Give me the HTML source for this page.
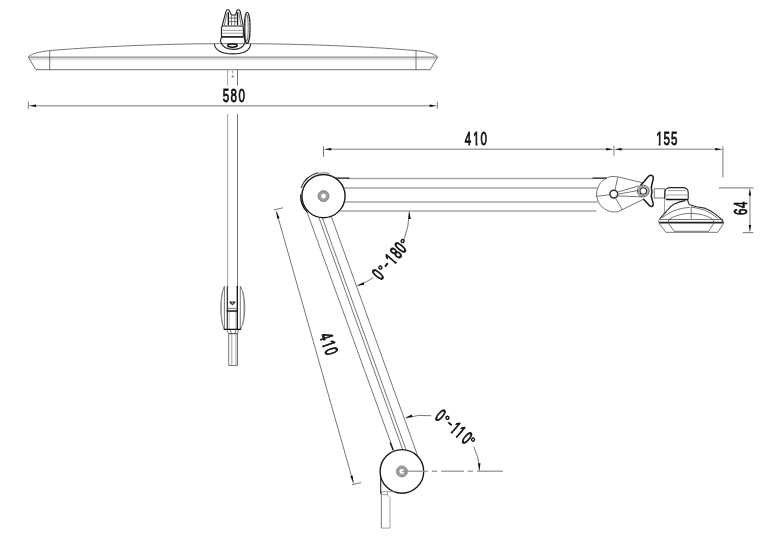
<!DOCTYPE html>
<html><head><meta charset="utf-8"><title>Lamp dimensions</title>
<style>
html,body{margin:0;padding:0;background:#fff;}
body{width:766px;height:539px;overflow:hidden;font-family:"Liberation Sans",sans-serif;}
svg{display:block;filter:grayscale(1)}
.k{fill:none;stroke:#4a4a4a;stroke-width:.75}
.k2{fill:none;stroke:#666;stroke-width:.9}
.m{fill:none;stroke:#222;stroke-width:1.1;stroke-linejoin:round}
.thin{fill:none;stroke:#444;stroke-width:.6}
.b{fill:none;stroke:#111;stroke-width:1.3;stroke-linecap:round;stroke-linejoin:round}
.bk{fill:#fff;stroke:#1a1a1a;stroke-width:1.5;stroke-linecap:round;stroke-linejoin:round}
.bb{fill:none;stroke:#222;stroke-width:1.8}
.g{fill:none;stroke:#a6a6a6;stroke-width:1.5}
.gh{fill:none;stroke:#8c8c8c;stroke-width:1.2}
.g2{fill:none;stroke:#8a8a8a;stroke-width:.8}
.gd{fill:none;stroke:#888;stroke-width:.9;stroke-dasharray:1 .8}
.ring{fill:none;stroke:#9a9a9a;stroke-width:1.9}
.ringd{fill:#fff;stroke:#333;stroke-width:1.5}
.cf{fill:#fff;stroke:#1a1a1a;stroke-width:1.4}
.cfb{fill:#fff;stroke:#333;stroke-width:.8}
.ar{fill:#111;stroke:none}
.t{font-family:"Liberation Sans",sans-serif;font-size:18.5px;fill:#111;stroke:#111;stroke-width:.72px;vector-effect:non-scaling-stroke}
.tr{stroke-width:.85px}
.w{fill:#fff;stroke:none}
.deg{fill:none;stroke:#111;stroke-width:1.35}
.dash{fill:none;stroke:#111;stroke-width:1.8}
</style></head><body>
<svg width="766" height="539" viewBox="0 0 766 539">
<rect width="766" height="539" fill="#fff"/>
<!-- top view: lamp bar -->
<rect x="29.6" y="57.4" width="406.6" height="2.8" fill="#dcdcdc"/>
<path class="k" d="M28.2,56.9 C32,53.5 40,51.5 49.7,50.6 C110,45.5 180,43.6 233,43.6 C286,43.6 356,45.5 416,50.6 C426,51.5 434,53.5 437.6,56.9" />
<path class="k" d="M28.2,56.9 L35.8,69.7 M437.6,56.9 L430.2,69.7" />
<line class="gh" x1="35.60" y1="69.70" x2="430.40" y2="69.70"/>
<line class="k" x1="49.70" y1="50.60" x2="49.70" y2="69.70"/>
<line class="k" x1="416.00" y1="50.60" x2="416.00" y2="69.70"/>
<line class="k2" x1="28.60" y1="57.10" x2="437.20" y2="57.10"/>
<line class="g" x1="34.00" y1="105.70" x2="431.50" y2="105.70"/>
<line class="k" x1="28.30" y1="101.60" x2="28.30" y2="108.80"/>
<line class="k" x1="437.30" y1="101.60" x2="437.30" y2="108.80"/>
<polygon class="ar" points="28.50,105.70 36.00,104.45 36.00,106.95"/>
<polygon class="ar" points="437.10,105.70 429.60,106.95 429.60,104.45"/>
<g transform="translate(222.80,102.00) rotate(0) scale(0.625,1)"><text class="t" x="0.00 12.32 24.96" y="0">580</text></g>
<line class="g2" x1="227.60" y1="69.70" x2="227.60" y2="85.50"/>
<line class="k" x1="237.50" y1="69.70" x2="237.50" y2="85.50"/>
<line class="g2" x1="227.60" y1="114.00" x2="227.60" y2="310.50"/>
<line class="k" x1="237.50" y1="114.00" x2="237.50" y2="310.50"/>
<path class="k" d="M232.2,71.4 l0.9,0 M232.2,72.9 l0.9,0 M231.8,76.9 l0.9,-1.2 l0.9,1.2 z" />
<!-- mount -->
<path class="m" d="M214.4,44.0 C214.6,50 222,53.9 233,53.9 C244,53.9 250.4,50 250.6,44.0" />
<path class="m" d="M220.4,41.2 C222,46.8 227,49.4 233,49.4 C239,49.4 243,47 244.7,43.4" />
<ellipse class="b" cx="232.4" cy="45.6" rx="4.8" ry="1.6" style="stroke-width:1.6"/>
<rect class="m" x="221.4" y="26" width="22.0" height="11" rx="2"/>
<line class="g2" x1="222.00" y1="30.40" x2="243.00" y2="30.40"/>
<line class="g2" x1="222.00" y1="33.20" x2="243.00" y2="33.20"/>
<line class="b" x1="221.80" y1="36.80" x2="243.00" y2="36.80"/>
<path class="m" d="M221.7,36.5 C220.9,38.5 220.2,40 220.4,42 M243.8,36.5 C244.5,38.5 245.1,40.5 245,43" />
<path class="m" d="M222.1,26 L226.0,11.4 C226.6,9.4 228.6,9.2 229.4,10.8 L231.4,15 L235.6,15 L236.8,10.8 C237.6,9.2 239.6,9.4 240.2,11.4 L243.2,26" />
<path class="k" d="M224.2,25.8 L227.4,12.2 M241.2,25.8 L238.8,12.2" />
<path class="b" d="M228.4,13 L228.3,24.6 M237.5,13 L237.6,24.6" />
<path class="k" d="M228.6,18 L237.6,18 M228.4,21.6 L237.8,21.6 M231.6,15 L231.6,25.8 M234.8,15 L234.8,25.8" />
<ellipse class="m" cx="247.1" cy="27.8" rx="2.9" ry="15.6"/>
<ellipse class="k" cx="246.7" cy="27.8" rx="1.5" ry="13.6"/>
<path class="k" d="M249.4,17 l1,0.3 M249.9,20.5 l1,0.2 M250.1,24 l1,0.1 M250.2,27.8 l1,0 M250.1,31.5 l1,-0.1 M249.9,35 l1,-0.2 M249.4,38.5 l1,-0.3" />
<!-- stem joint -->
<path class="k" d="M224.4,286.3 C219.6,295 219.6,321 224.4,329.4 M240.3,286.3 C246.3,295 246.3,321 240.3,329.4" />
<path class="g2" d="M222.4,292.5 C220.9,300 220.9,316 222.4,324 M242.6,292.5 C244.3,300 244.3,316 242.6,324" />
<line class="k" x1="224.40" y1="286.30" x2="224.40" y2="329.40"/>
<line class="k" x1="240.30" y1="286.30" x2="240.30" y2="329.40"/>
<line class="m" x1="227.30" y1="286.30" x2="227.30" y2="329.40"/>
<line class="b" x1="237.30" y1="286.30" x2="237.30" y2="329.40"/>
<path class="m" d="M229.9,302 L232.4,304.6 L235,302 Z" />
<line class="k" x1="227.60" y1="308.40" x2="237.30" y2="308.40"/>
<line class="b" x1="227.30" y1="311.00" x2="237.30" y2="311.00"/>
<line class="gd" x1="229.20" y1="312.00" x2="229.20" y2="329.00"/>
<line class="gd" x1="235.80" y1="312.00" x2="235.80" y2="329.00"/>
<line class="b" x1="224.20" y1="329.40" x2="240.50" y2="329.40"/>
<path class="k" d="M226.6,329.6 L228.8,333.7 L237.4,333.7 L238.4,329.6 M230,329.6 L231.6,333.7 M236,329.6 L235,333.7" />
<rect class="k" x="228.8" y="333.7" width="8.8" height="31.7"/>
<line class="g2" x1="231.80" y1="333.70" x2="231.80" y2="365.40"/>
<line class="g2" x1="236.00" y1="333.70" x2="236.00" y2="365.40"/>
<!-- side view -->
<line class="g" x1="348.00" y1="178.60" x2="593.40" y2="178.60"/>
<line class="g" x1="344.30" y1="187.90" x2="597.40" y2="187.90"/>
<line class="g" x1="344.60" y1="201.90" x2="597.80" y2="201.90"/>
<line class="g" x1="340.00" y1="211.00" x2="596.50" y2="211.00"/>
<line class="b" x1="335.80" y1="178.20" x2="348.80" y2="178.20"/>
<line class="b" x1="593.10" y1="178.20" x2="606.40" y2="178.20"/>
<line class="k" x1="306.70" y1="211.10" x2="393.76" y2="450.80"/>
<line class="k" x1="318.88" y1="217.50" x2="402.81" y2="450.00"/>
<line class="k" x1="322.29" y1="217.80" x2="405.89" y2="449.40"/>
<line class="k" x1="331.50" y1="217.00" x2="418.28" y2="457.40"/>
<circle class="cf" cx="323.5" cy="196.1" r="21.6"/>
<circle class="cf" cx="401.9" cy="471.4" r="21.8"/>
<circle class="ring" cx="323.50" cy="196.10" r="4.30"/>
<circle class="thin" cx="323.50" cy="196.10" r="5.50"/>
<circle class="thin" cx="323.50" cy="196.10" r="3.00"/>
<circle class="ring" cx="401.90" cy="471.40" r="4.30"/>
<circle class="thin" cx="401.90" cy="471.40" r="5.50"/>
<circle class="thin" cx="401.90" cy="471.40" r="3.00"/>
<path class="m" d="M301.04,187.93 A23.900000000000002,23.900000000000002 0 0 1 318.12,172.81" />
<path class="g" d="M318.26,173.40 A23.3,23.3 0 0 1 329.92,173.70" />
<path class="b" d="M306.83,211.65 A22.8,22.8 0 0 1 300.73,194.91" />
<path class="b" d="M390.3,443 L392.9,449.6" />
<line class="g" x1="329.00" y1="149.20" x2="608.00" y2="149.20"/>
<line class="k" x1="323.50" y1="146.20" x2="323.50" y2="156.80"/>
<line class="g" x1="613.90" y1="146.00" x2="613.90" y2="155.80"/>
<polygon class="ar" points="323.70,149.20 331.20,147.95 331.20,150.45"/>
<polygon class="ar" points="613.70,149.20 606.20,150.45 606.20,147.95"/>
<g transform="translate(464.70,145.30) rotate(0) scale(0.625,1)"><text class="t" x="0.00 13.44 25.44" y="0">410</text><rect class="w" x="13.24" y="-2.7" width="4.2" height="4"/><rect class="w" x="20.39" y="-2.7" width="3.9" height="4"/></g>
<line class="g" x1="620.00" y1="149.20" x2="717.00" y2="149.20"/>
<polygon class="ar" points="614.10,149.20 621.60,147.95 621.60,150.45"/>
<polygon class="ar" points="722.70,149.20 715.20,150.45 715.20,147.95"/>
<line class="k" x1="722.90" y1="146.40" x2="722.90" y2="177.30"/>
<g transform="translate(656.20,145.30) rotate(0) scale(0.625,1)"><text class="t" x="0.00 11.84 23.84" y="0">155</text><rect class="w" x="-0.20" y="-2.7" width="4.2" height="4"/><rect class="w" x="6.95" y="-2.7" width="3.9" height="4"/></g>
<line class="gh" x1="718.70" y1="187.90" x2="753.40" y2="187.90"/>
<line class="gh" x1="742.70" y1="232.60" x2="753.40" y2="232.60"/>
<line class="g" x1="749.90" y1="193.00" x2="749.90" y2="227.00"/>
<polygon class="ar" points="749.90,188.10 751.15,195.60 748.65,195.60"/>
<polygon class="ar" points="749.90,232.40 748.65,224.90 751.15,224.90"/>
<g transform="translate(746.90,215.00) rotate(-90) scale(0.625,1)"><text class="t" x="0.00 11.36" y="0">64</text></g>
<line class="k" x1="276.30" y1="211.20" x2="353.50" y2="483.10"/>
<line class="k" x1="273.60" y1="210.00" x2="283.00" y2="207.80"/>
<line class="k" x1="352.00" y1="484.80" x2="361.20" y2="482.60"/>
<polygon class="ar" points="276.30,211.20 279.55,218.07 277.15,218.76"/>
<polygon class="ar" points="353.50,483.10 350.25,476.23 352.65,475.54"/>
<g transform="translate(319.20,335.60) rotate(71) scale(0.62,1)"><text class="t tr" x="0.00 13.23 24.84" y="0">410</text><rect class="w" x="13.03" y="-2.7" width="4.2" height="4"/><rect class="w" x="20.18" y="-2.7" width="3.9" height="4"/></g>
<path class="k" d="M409.30,211.46 A80,80 0 0 1 403.99,239.57" />
<path class="k" d="M373.45,277.61 A80,80 0 0 1 357.58,285.74" />
<polygon class="ar" points="409.30,211.50 410.81,218.95 408.31,219.04"/>
<polygon class="ar" points="356.80,285.80 363.55,282.29 364.32,284.67"/>
<path class="k" d="M405.92,418.03 A56,56 0 0 1 431.29,415.74" />
<path class="k" d="M473.83,446.65 A56,56 0 0 1 479.50,470.71" />
<polygon class="ar" points="405.00,417.80 411.86,414.53 412.55,416.93"/>
<polygon class="ar" points="479.50,470.80 477.99,463.35 480.49,463.26"/>
<line class="gh" x1="402.00" y1="471.20" x2="427.80" y2="471.20"/>
<line class="gh" x1="431.90" y1="471.20" x2="437.10" y2="471.20"/>
<line class="gh" x1="441.20" y1="471.20" x2="464.00" y2="471.20"/>
<line class="gh" x1="467.70" y1="471.20" x2="472.90" y2="471.20"/>
<line class="gh" x1="477.00" y1="471.20" x2="503.00" y2="471.20"/>
<g transform="translate(380.70,281.00) rotate(-50)"><g transform="translate(0.00,0) scale(0.62,1)"><text class="t tr">0</text></g><circle class="deg" cx="10.10" cy="-8.9" r="1.5"/><line class="dash" x1="13.80" y1="-6.0" x2="18.20" y2="-6.0"/><g transform="translate(20.20,0) scale(0.62,1)"><text class="t tr">1</text><rect class="w" x="-0.20" y="-2.7" width="4.2" height="4"/><rect class="w" x="6.95" y="-2.7" width="3.9" height="4"/></g><g transform="translate(28.10,0) scale(0.62,1)"><text class="t tr">8</text></g><g transform="translate(35.10,0) scale(0.62,1)"><text class="t tr">0</text></g><circle class="deg" cx="44.70" cy="-8.9" r="1.5"/></g>
<g transform="translate(434.10,418.10) rotate(40.5)"><g transform="translate(0.00,0) scale(0.62,1)"><text class="t tr">0</text></g><circle class="deg" cx="9.90" cy="-8.9" r="1.5"/><line class="dash" x1="13.60" y1="-6.0" x2="18.00" y2="-6.0"/><g transform="translate(19.50,0) scale(0.62,1)"><text class="t tr">1</text><rect class="w" x="-0.20" y="-2.7" width="4.2" height="4"/><rect class="w" x="6.95" y="-2.7" width="3.9" height="4"/></g><g transform="translate(26.10,0) scale(0.62,1)"><text class="t tr">1</text><rect class="w" x="-0.20" y="-2.7" width="4.2" height="4"/><rect class="w" x="6.95" y="-2.7" width="3.9" height="4"/></g><g transform="translate(34.70,0) scale(0.62,1)"><text class="t tr">0</text></g><circle class="deg" cx="43.60" cy="-8.9" r="1.5"/></g>
<path class="m" d="M380.7,477 L380.7,493.8" />
<path class="g2" d="M380.7,491.7 L394,491.7 M381.3,494.7 L387.4,494.7 M387.4,491.7 L387.4,494.7 L390,497.8 L390,528.1 L381.3,528.1" />
<line class="k" x1="381.30" y1="491.70" x2="381.30" y2="528.10"/>
<!-- right joint -->
<path class="k" d="M610.9,176.5 A17.8,17.8 0 1 0 618.2,211.6 L645.4,198.3 M610.9,176.5 L617.5,176.7 L642.2,182.7" />
<circle class="ringd" cx="613.80" cy="194.10" r="3.90"/>
<line class="k" x1="596.20" y1="196.40" x2="609.60" y2="194.70"/>
<path class="k" d="M615.1,189.9 L617.7,177.2 M615.8,198.6 L622.4,209.8" />
<path class="k" d="M617.9,192.0 L639.1,185.8 M618.4,194.1 L637.5,190.6 M618,195.9 L642,196.9" />
<path class="bk" d="M641.0,184.9 C643.6,182.4 646.4,178.6 648.6,176.2 C650.6,174.4 653.6,175.4 653.4,178.2 C652.8,181.4 651.6,184.6 651.3,187.8 C652.2,190.4 652.2,193.4 651.2,196 C651.8,198.6 652.6,201.2 653.2,203.6 C653.6,206.2 651,207.4 649.4,205.6 C647.6,203.6 645.6,201.2 643.6,199.4" />
<circle class="cfb" cx="643.30" cy="191.00" r="5.90"/>
<circle class="thin" cx="643.30" cy="191.00" r="4.80"/>
<circle class="m" cx="643.30" cy="191.00" r="3.30"/>
<rect class="k" x="654.2" y="188.8" width="10.6" height="9.2"/>
<path class="m" d="M664.8,199.2 L664.8,192.4 C664.8,189.4 667.4,187.6 670.6,187.6 L682.4,187.6 C685.8,187.6 688.2,189.6 688.2,192.6 L688.2,199.2" />
<line class="b" x1="666.50" y1="199.50" x2="687.60" y2="199.50"/>
<line class="g2" x1="668.00" y1="190.60" x2="686.00" y2="190.60"/>
<line class="g2" x1="665.40" y1="195.00" x2="687.60" y2="195.00"/>
<path class="g2" d="M664.5,199.5 L664.5,212.3 C663.4,214.8 661,217 659.2,219.2" />
<path class="m" d="M687.6,200 C688.2,202 688.6,203.6 689.3,204.5 C692,205.6 694,206.2 696.5,206.7 C699.5,207.2 702.5,207.6 705.4,208.4 C708.6,209.4 711.6,211.2 714.3,213.4 C717,215.4 719.4,217.4 721.5,219.5 L723.2,221.7" />
<path class="m" d="M685.4,200.6 C681.6,201.2 677.6,202.4 674.2,203.9 C671.6,205.4 669.4,207.6 667.6,210 C666.2,211.6 664.9,213.0 663.7,214.5 C662.4,216 661,217.4 659.8,218.9" />
<path class="k" d="M689.8,207.3 C685.6,207.6 681.4,208.4 677.6,209.5 C674.4,210.4 671.4,211.8 668.7,213.4 C666.2,214.8 664,216.2 662,217.8" />
<path class="k" d="M668.7,219.5 C675,215.4 683,213.4 690.9,213.4 C699,213.4 706.6,215.4 712.6,218.9" />
<line class="k" x1="691.20" y1="206.70" x2="691.20" y2="218.90"/>
<path class="k" d="M691,207.2 C696,207.6 701,208.8 705.4,210.6 C710,212.6 714.2,215.2 717.6,218.4" />
<line class="k" x1="659.40" y1="219.50" x2="723.00" y2="219.50"/>
<line class="bb" x1="659.20" y1="222.70" x2="723.40" y2="222.70"/>
<path class="k" d="M659.2,219.5 C658.4,220.6 658.4,222.4 659.4,223.8 M723.2,221.5 C723.8,222.4 723.8,223.2 723.2,224" />
<path class="k" d="M659.5,224 L665.9,232.3 L717.6,232.3 L723.2,224" />
<path class="k" d="M668.5,219.5 L668.5,223.4 L674.2,231.3 L708.7,231.3 L713.7,223.4 L713.7,219.5" />
</svg>
</body></html>
